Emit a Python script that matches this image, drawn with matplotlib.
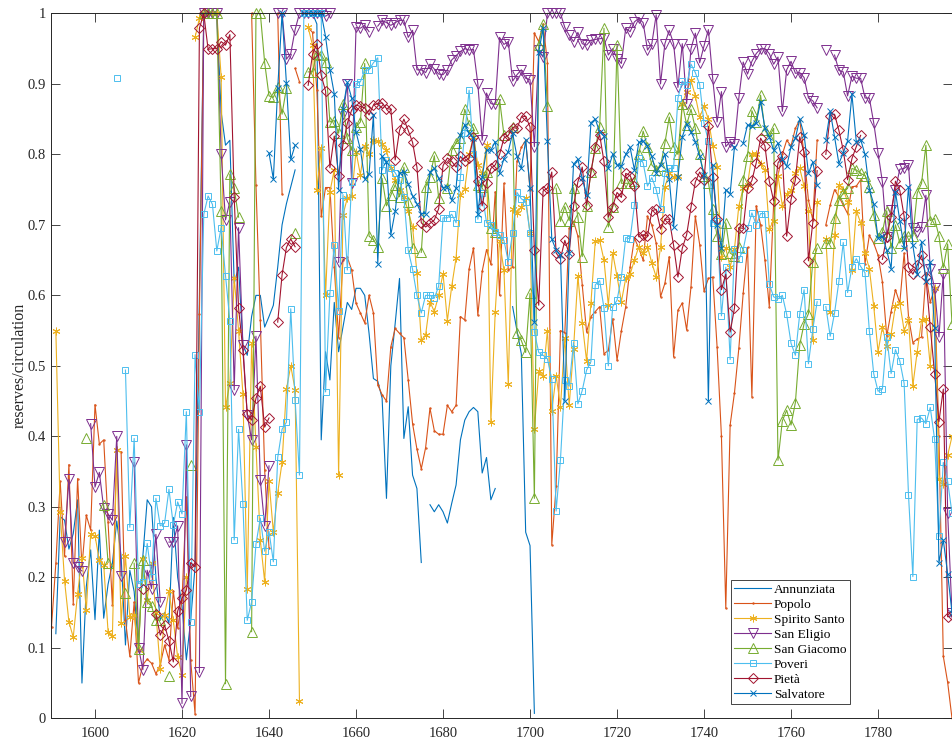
"""Reserves over circulation for the Naples public banks, 1590-1797."""

import matplotlib

matplotlib.use("Agg")

import matplotlib.pyplot as plt
import numpy as np

n = np.nan

# one row per decade, first row starts in 1590, short series stop early
annunziata = [
    n, .12, .286, .281, .24, .262, .31, .05, .187, .239,
    .14, .267, .142, .19, .22, .28, .23, .104, .21, .18,
    .10, .23, .31, .30, .20, .14, .15, .135, .285, .20,
    .16, .083, .14, .215, .60, 1, 1, 1, 1, .86,
    .813, .82, .617, .64, .53, .515, .57, .60, .60, .555,
    .57, .586, .64, .70, .73, .754, .778, n, n, 1,
    1, .985, .395, .52, .48, .59, .52, .555, .59, .58,
    .61, .61, .60, .546, .482, .478, .454, .312, .50, .56,
    .624, .397, .442, .345, .326, .221, n, .303, .293, .303,
    .293, .277, .305, .331, .395, .423, .435, .441, .435, .348,
    .37, .31, .326, n, n, n, .584, .55, .517, .264,
    .245, .007,
]
popolo = [
    .13, .22, .336, .23, .36, .162, .34, .215, .288, .267,
    .445, .389, .395, .279, .161, .38, .378, .14, .088, .165,
    .05, .076, .084, .078, .063, .076, .104, .083, .181, .128,
    .168, .314, .082, .006, .573, 1, 1, 1, 1, n,
    n, n, n, n, n, n, 1, .757, .565, .352,
    .241, n, 1, .744, n, n, .922, .903, n, .98,
    .973, .891, .712, .753, .753, .64, .54, .65, .654, .636,
    .589, .575, .561, .60, .575, .473, .459, .45, .527, .553,
    .546, .54, .48, .418, .382, .354, .384, .44, .408, .403,
    .403, .444, .435, .444, .57, .565, .638, .667, .572, .634,
    .665, .644, .747, .60, .759, .636, .64, .79, .81, .82,
    .75, .972, .96, .985, .93, .246, .329, .55, .547, .695,
    .705, .684, .615, .548, .57, .577, .584, .517, .522, .567,
    .508, .55, .584, .64, .681, .667, .65, .712, .70, .674,
    .598, .617, .655, .513, .579, .589, .551, .612, .712, .672,
    .606, .624, .626, .527, .40, .156, .416, .462, .525, .603,
    .668, .456, .727, .70, .65, .584, .73, .77, .80, .82,
    .812, .837, .849, .80, .735, .707, .82, n, .70, .728,
    .75, .74, .728, .716, .754, .755, .764, .645, .685, .674,
    .657, .619, .542, .577, .608, .589, .66, .57, .533, .538,
    .541, .63, .59, .61, .40, .088, .051, 0,
]
spirito_santo = [
    n, .55, .292, .195, .137, .115, .177, .228, .153, .261,
    .259, .224, .218, .123, .117, .381, .135, .23, .144, .146,
    .097, .226, .168, .221, .149, .07, .147, .18, .139, .087,
    .061, .20, n, .966, .993, 1, 1, 1, 1, .91,
    .441, .476, .625, .55, .46, .183, .532, .385, .253, .194,
    .337, .264, .32, .363, .467, .50, .466, .024, n, .98,
    .955, .75, .809, .60, .747, .778, .345, .714, .738, .741,
    .804, .771, .812, .801, .82, .819, .815, .806, .78, .764,
    .75, .74, .719, .697, .632, .536, .544, .591, .577, .60,
    .631, .564, .613, .653, .742, .751, .80, .825, .785, .773,
    .813, .42, .577, .677, .636, .474, .722, .717, .725, .738,
    .688, .41, .492, .486, .55, .436, .486, .442, .54, .444,
    .524, .627, .561, .507, .589, .677, .678, .65, .586, .66,
    .627, .591, .624, .63, .65, .669, .66, .669, .646, .626,
    .668, .754, .773, .768, .77, .872, .889, .905, .883, .853,
    .868, .85, .812, .782, .654, .667, .64, .666, .727, .752,
    .757, .80, .80, .787, .778, .694, .706, .77, .727, .744,
    .749, .773, .78, .755, .72, .537, .733, n, .68, .577,
    .685, .757, .75, .733, .636, .72, .703, .66, .638, .585,
    .52, .555, .528, .545, .585, .589, .55, .565, .472, .52,
    .565, .566, .50, .61, .34, .333, .373, .40,
]
san_eligio = [
    n, n, n, .25, .339, .221, .214, .209, n, .418,
    .328, .349, .298, .29, .281, .40, .202, n, n, .363,
    .10, .069, .21, .184, .261, .165, n, .25, .25, .273,
    .021, .388, .031, n, .065, 1, 1, 1, 1, .801,
    .707, .733, .466, .696, .529, .43, .395, .542, .338, .273,
    .358, n, 1, 1, .935, .943, .977, 1, 1, 1,
    1, 1, 1, .996, 1, n, .647, .857, .90, .76,
    .98, .979, .983, .974, n, .982, .99, .987, .983, .987,
    .99, .99, .966, .976, .92, .92, .916, .928, .921, .914,
    .913, .92, .934, .94, .946, .95, .948, .949, .90, .82,
    .887, .872, .871, .966, .956, .96, .904, .913, .92, .908,
    .906, .811, .948, .938, 1, 1, 1, 1, .98, .969,
    .96, .973, .957, .955, .962, .963, .964, .965, .941, .95,
    .936, .929, .979, .974, .988, .993, .987, .948, .957, .998,
    .90, .957, .976, .957, .895, .957, .872, .95, .972, .93,
    .954, .977, .907, .846, .889, .811, .818, .815, .88, .931,
    .914, .932, .943, .95, .95, .943, .928, .938, .861, .92,
    .932, .915, .916, .909, .88, .876, .866, n, .948, n,
    .941, .919, .917, .883, .911, .908, .908, .88, .88, .845,
    .802, .761, .683, .721, .75, .779, .78, .785, .695, .69,
    .697, .742, .638, .61, .541, .631, .291, .15,
]
san_giacomo = [
    n, n, n, n, n, n, n, n, .398, n,
    n, n, .302, .221, n, n, n, .178, n, .22,
    .099, .224, .165, .159, .139, .139, n, .06, n, n,
    n, n, .359, n, n, 1, 1, 1, 1, .72,
    .049, .772, .752, .711, n, n, .123, 1, 1, .93,
    .883, .881, .895, .857, .894, n, .688, n, n, .917,
    .917, .943, .941, .931, .846, .848, .83, .872, .823, .806,
    .839, .846, .929, .684, .679, .669, .766, .727, .742, .757,
    .74, .782, .733, .667, n, .661, .754, .768, .798, .738,
    n, .752, .806, .816, .823, .864, .842, .837, .757, .754,
    .775, .695, .69, .878, .828, n, .839, .546, .536, .519,
    .603, .312, .955, .985, .868, n, .752, .705, .726, .706,
    .753, .711, .655, .727, .775, .809, .839, .979, .697, .726,
    .955, .759, .759, .759, .762, .80, .833, .811, .785, .778,
    .783, .816, .853, .811, .80, .872, .842, .864, .837, .80,
    .77, .76, .722, .684, .658, .703, .66, .656, .669, .763,
    .798, .862, .846, .884, .834, .825, .837, .366, .422, .437,
    .416, .448, .53, .56, .574, .648, .667, n, .674, .674,
    .71, .735, .745, .752, .78, .778, .773, .77, .754, .714,
    .681, .69, .72, .667, .70, .674, .684, .684, .684, .745,
    .759, .813, .706, .709, .684, .639, .673, .56,
]
poveri = [
    n, n, n, n, n, n, n, n, n, n,
    n, n, n, n, n, .908, n, .494, .271, .397,
    .191, .194, .248, .20, .312, .273, .277, .325, .274, .307,
    .29, .435, .137, .516, .434, .715, .741, .729, .663, .696,
    .628, .564, .253, .41, .304, .139, .165, .247, .284, .237,
    .265, .222, .37, .41, .42, .581, .452, .345, 1, 1,
    1, 1, 1, .463, .603, .672, .578, .743, .636, .761,
    .90, .903, .919, .92, .93, .937, .778, .792, .78, .774,
    .763, .74, .664, .637, .60, .575, .60, .60, .596, .613,
    .71, .71, .715, .703, .768, .83, .891, .80, .708, .745,
    .703, .70, .69, .686, .678, .648, .689, .746, .737, .733,
    .688, .548, .519, .515, .51, .481, .294, .367, .48, .471,
    .533, .446, .465, .494, .506, .615, .621, .582, .50, .584,
    .593, .626, .682, .68, .728, .795, .788, .755, .767, .75,
    .723, .773, .78, .78, .88, .904, .898, .928, .916, .899,
    .844, .819, .703, .706, .571, .64, .509, .666, .651, .665,
    .695, .717, .70, .716, .716, .616, .598, .595, .60, .573,
    .532, .515, .574, .608, .503, .552, .591, n, .584, .542,
    .575, .62, .675, .604, .64, .652, .641, .632, .55, .489,
    .464, .467, .541, .489, .523, .507, .475, .317, .201, .424,
    .426, .418, .441, .396, .258, .363, .336, .291,
]
pieta = [
    n, n, n, n, n, n, n, n, n, n,
    n, n, n, n, n, n, n, n, n, n,
    n, .183, n, n, .148, .118, .132, .11, .08, .152,
    .17, .182, .221, .215, .979, 1, .949, .95, .95, .96,
    .955, .97, .739, .582, .522, .431, .423, .454, .471, .413,
    .426, n, .562, .629, .668, .68, .669, n, n, .898,
    .942, .957, .912, .89, .781, .826, .77, .814, .844, .863,
    .87, .868, .866, .856, .87, .872, .873, .865, .864, .792,
    .834, .85, .834, .817, .782, .703, .697, .702, .707, .723,
    .784, .795, .79, .782, .797, .79, .795, .825, .762, .727,
    .76, .78, .785, .80, .823, .827, .838, .837, .853, .854,
    .839, .664, .586, .748, .752, .775, .66, .652, .678, .659,
    .727, .761, .782, .728, .775, .811, .828, .79, .711, .726,
    .746, .739, .773, .77, .755, .683, .686, .684, .72, .722,
    .694, .708, .708, .671, .626, .667, .686, .725, .761, .775,
    .764, .84, .768, .708, .608, .63, .548, .582, .696, .695,
    .752, .763, .788, .823, .812, .762, .734, .788, .797, .684,
    .736, .764, .825, .803, .649, .703, .777, n, .80, .855,
    .857, .834, .806, .764, .794, .811, .827, n, n, n,
    n, .651, .683, .711, .762, .749, .712, .64, .63, .643,
    .657, .626, .555, .489, .421, .467, .144, .146,
]
salvatore = [
    n, n, n, n, n, n, n, n, n, n,
    n, n, n, n, n, n, n, n, n, n,
    n, n, n, n, n, n, n, n, n, n,
    n, n, n, n, n, n, n, n, n, n,
    n, n, n, n, n, n, n, n, n, n,
    .802, .765, .894, 1, .901, .793, .813, n, 1, 1,
    1, 1, 1, .967, .92, .886, .75, .865, .902, .88,
    .832, .807, .765, .772, .856, .645, .797, .789, .686, .719,
    .773, .775, .758, .741, .73, .716, .716, .775, .78, .766,
    .753, .754, .735, .752, .828, .842, .83, .823, .716, .768,
    .806, .806, .818, .773, .794, .804, .83, .797, .78, .82,
    .752, .562, .945, .979, .819, .68, .664, .657, .45, .66,
    .786, .793, .766, .742, .845, .85, .832, .826, .78, .80,
    .785, .783, .80, .81, .778, .817, .819, .812, .797, .774,
    .785, .80, .765, .697, .768, .825, .843, .832, .818, .797,
    .771, .45, .785, .70, .667, .75, .744, .811, n, .816,
    .842, .84, .845, .875, .837, .825, .806, .816, .793, .783,
    .811, .823, .85, .828, .773, .789, .757, n, .821, .861,
    .825, .787, .802, .819, .885, .818, .821, .80, .75, .73,
    .681, .684, .664, .638, .747, .706, .667, .754, .671, .63,
    .676, .62, .647, .553, .221, .253, .205, .15,
]

first_year = 1590
x_ticks = [1600, 1620, 1640, 1660, 1680, 1700, 1720, 1740, 1760, 1780]
y_ticks = [0, 0.1, 0.2, 0.3, 0.4, 0.5, 0.6, 0.7, 0.8, 0.9, 1]
y_tick_labels = ["0", "0.1", "0.2", "0.3", "0.4", "0.5", "0.6", "0.7", "0.8", "0.9", "1"]

asterisk = (6, 2, 0)
series = [
    ("Annunziata", annunziata, "#0072BD", None, 0),
    ("Popolo", popolo, "#D95319", ".", 2.0),
    ("Spirito Santo", spirito_santo, "#EDB120", asterisk, 5.5),
    ("San Eligio", san_eligio, "#7E2F8E", "v", 7.0),
    ("San Giacomo", san_giacomo, "#77AC30", "^", 7.0),
    ("Poveri", poveri, "#4DBEEE", "s", 4.3),
    ("Pietà", pieta, "#A2142F", "D", 4.6),
    ("Salvatore", salvatore, "#0072BD", "x", 3.8),
]

plt.rcParams["font.family"] = ["Liberation Serif", "DejaVu Serif"]

W, H = 953, 743
fig = plt.figure(figsize=(W / 100, H / 100), dpi=100)
ax = fig.add_axes([51.5 / W, (H - 718.3) / H, 900.5 / W, 704.9 / H])

for name, values, color, marker, size in series:
    years = first_year + np.arange(len(values))
    ax.plot(
        years,
        values,
        color=color,
        linewidth=0.8,
        marker=marker,
        markersize=size,
        markerfacecolor="none",
        markeredgewidth=0.7,
        clip_on=False,
        label=name,
    )

ax.set_xlim(1590, 1797)
ax.set_ylim(0, 1)
ax.set_xticks(x_ticks)
ax.set_yticks(y_ticks)
ax.set_yticklabels(y_tick_labels)
ax.tick_params(
    direction="in", length=6.5, width=0.6, top=True, right=True,
    labelsize=10.5, labelcolor="#262626", color="#262626",
)
ax.tick_params(axis="x", pad=6)
ax.tick_params(axis="y", pad=4)
for spine in ax.spines.values():
    spine.set_linewidth(0.7)
    spine.set_color("#262626")
ax.set_ylabel("reserves/circulation", fontsize=11.5, color="#262626", labelpad=0)

legend = ax.legend(
    loc="lower left",
    bbox_to_anchor=((731 - 51.5) / 900.5, (718.3 - 704) / 704.9),
    fontsize=9.6,
    frameon=True,
    fancybox=False,
    framealpha=1,
    edgecolor="#262626",
    borderpad=0.25,
    labelspacing=0.2,
    handlelength=2.75,
    handletextpad=0.22,
    borderaxespad=0,
)
legend.get_frame().set_linewidth(0.6)
legend.set_zorder(5)

fig.savefig("out.png", dpi=100)
